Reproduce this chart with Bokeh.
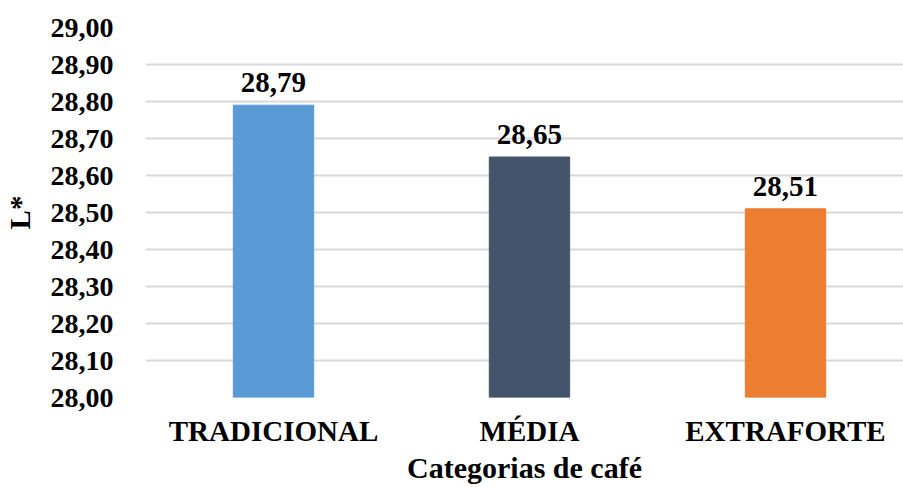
from bokeh.plotting import figure
from bokeh.models import ColumnDataSource, FixedTicker, CustomJSTickFormatter, Range1d
from bokeh.embed import file_html
from bokeh.resources import INLINE
from bokeh.core.properties import value

categories = ["TRADICIONAL", "MÉDIA", "EXTRAFORTE"]
values = [28.79, 28.65, 28.51]
colors = ["#5B9BD5", "#44546A", "#ED7D31"]
y_ticks = [28.0, 28.1, 28.2, 28.3, 28.4, 28.5, 28.6, 28.7, 28.8, 28.9, 29.0]

FONT = "Liberation Serif"

xs = list(range(len(categories)))
labels = [f"{v:.2f}".replace(".", ",") for v in values]
src = ColumnDataSource(dict(x=xs, top=values, color=colors, label=labels))

p = figure(width=903, height=487, output_backend="svg", toolbar_location=None,
           x_range=Range1d(-0.5, 2.461), y_range=Range1d(28.0, 29.0),
           min_border_left=139, min_border_right=0, min_border_top=27, min_border_bottom=90)
p.outline_line_color = None
p.background_fill_color = "white"
p.border_fill_color = "white"

p.vbar(x="x", top="top", bottom=28.0, width=0.314, color="color", source=src)
p.text(x="x", y="top", text="label", source=src, text_align="center", text_baseline="bottom",
       y_offset=-13, text_font=value(FONT), text_font_style="bold", text_font_size="29px",
       text_color="black")

# axes
p.xaxis.ticker = FixedTicker(ticks=xs)
p.xaxis.major_label_overrides = {i: c for i, c in enumerate(categories)}
p.yaxis.ticker = FixedTicker(ticks=y_ticks)
p.yaxis.formatter = CustomJSTickFormatter(code="return tick.toFixed(2).replace('.', ',');")

for ax in (p.xaxis[0], p.yaxis[0]):
    ax.axis_line_color = None
    ax.major_tick_line_color = None
    ax.minor_tick_line_color = None
    ax.major_label_text_font = FONT
    ax.major_label_text_font_style = "bold"
    ax.major_label_text_color = "black"
    ax.axis_label_text_font = FONT
    ax.axis_label_text_font_style = "bold"
    ax.axis_label_text_color = "black"

p.yaxis.major_label_text_font_size = "28px"
p.yaxis.major_label_standoff = 26
p.yaxis.axis_label = "L*"
p.yaxis.axis_label_text_font_size = "29px"
p.yaxis.axis_label_standoff = 12

p.xaxis.major_label_text_font_size = "29px"
p.xaxis.major_label_standoff = 11
p.xaxis.axis_label = "Categorias de café"
p.xaxis.axis_label_text_font_size = "30px"
p.xaxis.axis_label_standoff = 1

p.xgrid.grid_line_color = None
p.ygrid.ticker = FixedTicker(ticks=y_ticks)
p.ygrid.grid_line_color = "#D9D9D9"
p.ygrid.grid_line_width = 2

open("out.html", "w").write(file_html(p, INLINE))
